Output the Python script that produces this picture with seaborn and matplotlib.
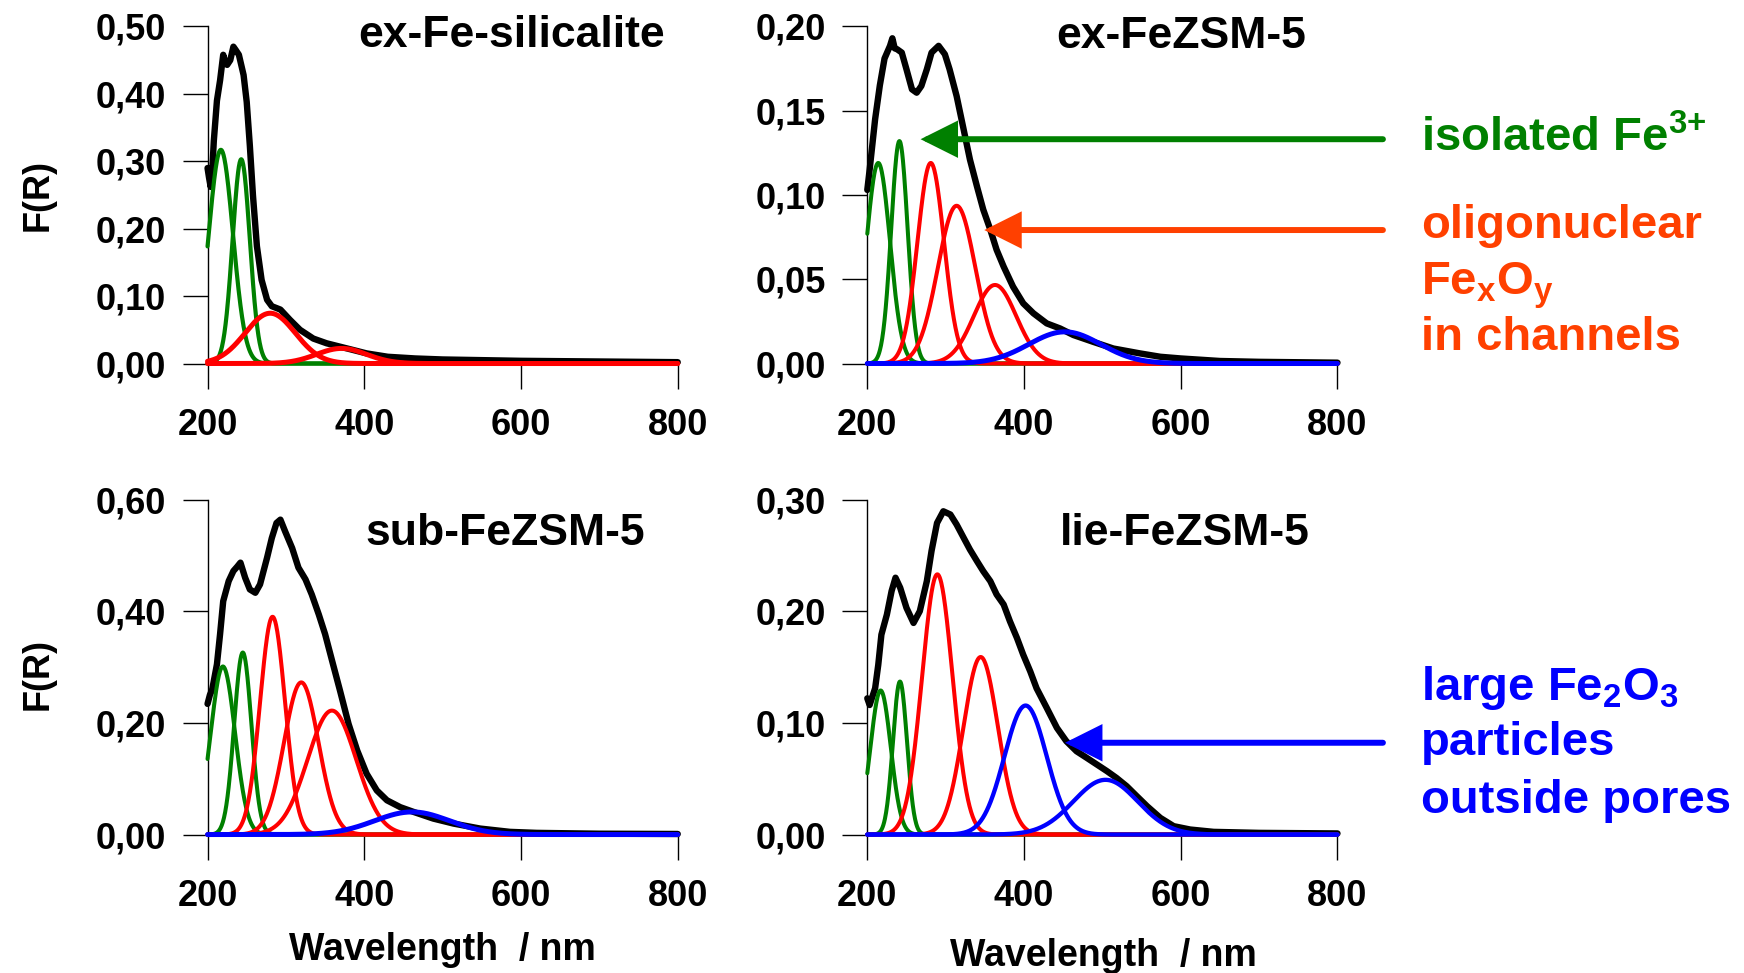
import numpy as np
import matplotlib
matplotlib.use("Agg")
import matplotlib.pyplot as plt
from matplotlib.ticker import FuncFormatter
import seaborn as sns

# ---------------------------------------------------------------- data
# Measured Kubelka-Munk spectra F(R) vs wavelength (nm)
wl_silicalite = [200, 202, 204, 206, 208, 212, 216, 220, 222, 225,
                 229, 233, 236, 240, 246, 250, 254, 258, 263, 269,
                 276, 282, 293, 305, 318, 335, 352, 369, 386, 403,
                 430, 465, 500, 600, 700, 800]
fr_silicalite = [0.29, 0.275, 0.262, 0.285, 0.33, 0.39, 0.42, 0.458, 0.45, 0.443,
                 0.45, 0.47, 0.465, 0.458, 0.428, 0.388, 0.323, 0.249, 0.174, 0.124,
                 0.0945, 0.085, 0.080, 0.065, 0.050, 0.037, 0.030, 0.025, 0.020, 0.015,
                 0.010, 0.0075, 0.006, 0.004, 0.003, 0.002]

wl_ex = [200, 203, 210, 216, 222, 229, 232, 235, 238, 244,
         250, 257, 263, 269, 276, 282, 291, 299, 305, 314,
         322, 331, 340, 348, 357, 365, 374, 386, 399, 412,
         429, 446, 463, 488, 514, 548, 574, 600, 650, 700, 800]
fr_ex = [0.103, 0.115, 0.145, 0.165, 0.181, 0.1885, 0.193, 0.187, 0.1865, 0.1845,
         0.1746, 0.1627, 0.1607, 0.1647, 0.1746, 0.1845, 0.1885, 0.1835, 0.1746, 0.1587,
         0.141, 0.121, 0.105, 0.0913, 0.0794, 0.0675, 0.0575, 0.0456, 0.0357, 0.0298,
         0.0238, 0.0208, 0.0169, 0.0129, 0.0089, 0.006, 0.004, 0.003, 0.0015, 0.001, 0.0005]

wl_sub = [200, 203, 206, 212, 216, 220, 227, 233, 238, 242,
          248, 254, 261, 267, 276, 282, 288, 293, 299, 308,
          316, 325, 333, 342, 350, 359, 369, 380, 391, 403,
          416, 429, 446, 463, 488, 514, 548, 586, 620, 700, 800]
fr_sub = [0.234, 0.25, 0.26, 0.305, 0.359, 0.418, 0.454, 0.472, 0.48, 0.487,
          0.46, 0.439, 0.433, 0.448, 0.496, 0.531, 0.558, 0.564, 0.543, 0.513,
          0.478, 0.457, 0.43, 0.394, 0.359, 0.311, 0.258, 0.198, 0.1505, 0.109,
          0.079, 0.0613, 0.049, 0.0405, 0.0286, 0.0196, 0.0107, 0.0048, 0.003, 0.0015, 0.001]

wl_lie = [200, 203, 210, 214, 218, 225, 231, 236, 242, 250,
          259, 267, 276, 282, 289, 297, 306, 314, 323, 331,
          340, 348, 357, 365, 374, 382, 391, 399, 408, 416,
          429, 442, 454, 467, 480, 493, 506, 518, 531, 544,
          557, 574, 591, 612, 642, 700, 800]
fr_lie = [0.122, 0.116, 0.131, 0.152, 0.179, 0.197, 0.218, 0.230, 0.221, 0.203,
          0.1895, 0.200, 0.227, 0.254, 0.279, 0.2895, 0.2866, 0.2776, 0.2657, 0.2552,
          0.2448, 0.2358, 0.2269, 0.215, 0.206, 0.191, 0.176, 0.161, 0.146, 0.131,
          0.1134, 0.0955, 0.0836, 0.0746, 0.0687, 0.0627, 0.0567, 0.0507, 0.0433, 0.0343,
          0.0254, 0.0149, 0.0075, 0.0045, 0.0024, 0.0015, 0.001]

# Gaussian sub-bands of each deconvolution: centre (nm), height, sigma (nm), species
bands_silicalite_center = [217, 243, 280, 371]
bands_silicalite_height = [0.317, 0.303, 0.0746, 0.0224]
bands_silicalite_sigma = [15.5, 11, 32, 32]
bands_silicalite_kind = ["iso", "iso", "olig", "olig"]

bands_ex_center = [214, 241, 281, 314, 363, 452]
bands_ex_height = [0.119, 0.132, 0.119, 0.0936, 0.0466, 0.0188]
bands_ex_sigma = [15, 10.5, 17, 24, 27, 46]
bands_ex_kind = ["iso", "iso", "olig", "olig", "olig", "part"]

bands_sub_center = [219.6, 245, 283, 319.6, 358.7, 461]
bands_sub_height = [0.301, 0.326, 0.39, 0.2725, 0.222, 0.0405]
bands_sub_sigma = [15.5, 11, 16, 22, 31, 48]
bands_sub_kind = ["iso", "iso", "olig", "olig", "olig", "part"]

bands_lie_center = [217, 241.7, 289.4, 344.7, 402, 504]
bands_lie_height = [0.129, 0.137, 0.233, 0.159, 0.1155, 0.049]
bands_lie_sigma = [13, 9, 19.5, 22, 27, 41]
bands_lie_kind = ["iso", "iso", "olig", "olig", "part", "part"]

sample_names = ["ex-Fe-silicalite", "ex-FeZSM-5", "sub-FeZSM-5", "lie-FeZSM-5"]
y_ticks = [[0.0, 0.1, 0.2, 0.3, 0.4, 0.5],
           [0.0, 0.05, 0.10, 0.15, 0.20],
           [0.0, 0.2, 0.4, 0.6],
           [0.0, 0.1, 0.2, 0.3]]
x_ticks = [200, 400, 600, 800]

# ---------------------------------------------------------------- style
sns.set_style("ticks")
plt.rcParams["font.family"] = ["Liberation Sans", "DejaVu Sans"]
plt.rcParams["font.weight"] = "bold"
plt.rcParams["axes.labelweight"] = "bold"
plt.rcParams["text.color"] = "black"
plt.rcParams["axes.labelcolor"] = "black"
plt.rcParams["xtick.color"] = "black"
plt.rcParams["ytick.color"] = "black"
plt.rcParams["mathtext.fontset"] = "custom"
plt.rcParams["mathtext.rm"] = "Liberation Sans:bold"
plt.rcParams["mathtext.it"] = "Liberation Sans:bold"
plt.rcParams["mathtext.bf"] = "Liberation Sans:bold"

kind_color = {"iso": "#008000", "olig": "#FF0000", "part": "#0000FF"}
kind_order = {"iso": 3, "olig": 4, "part": 5}
GREEN_TXT, ORANGE_TXT, BLUE_TXT = "#008000", "#FF4000", "#0000FF"

panel_specs = [
    dict(rect=[0.1190, 0.6264, 0.2696, 0.3464], wl=wl_silicalite, fr=fr_silicalite,
         c=bands_silicalite_center, h=bands_silicalite_height, s=bands_silicalite_sigma,
         k=bands_silicalite_kind, lw={"iso": 3.0, "olig": 3.6, "part": 3.6},
         title_pos=(0.647, 0.940)),
    dict(rect=[0.4973, 0.6264, 0.2696, 0.3464], wl=wl_ex, fr=fr_ex,
         c=bands_ex_center, h=bands_ex_height, s=bands_ex_sigma,
         k=bands_ex_kind, lw={"iso": 2.9, "olig": 2.9, "part": 3.6},
         title_pos=(0.667, 0.937)),
    dict(rect=[0.1190, 0.1423, 0.2696, 0.3443], wl=wl_sub, fr=fr_sub,
         c=bands_sub_center, h=bands_sub_height, s=bands_sub_sigma,
         k=bands_sub_kind, lw={"iso": 2.9, "olig": 2.9, "part": 3.6},
         title_pos=(0.633, 0.864)),
    dict(rect=[0.4973, 0.1423, 0.2696, 0.3443], wl=wl_lie, fr=fr_lie,
         c=bands_lie_center, h=bands_lie_height, s=bands_lie_sigma,
         k=bands_lie_kind, lw={"iso": 2.9, "olig": 2.9, "part": 3.1},
         title_pos=(0.676, 0.864)),
]

fig = plt.figure(figsize=(17.44, 9.73), dpi=100)
grid = np.linspace(200, 800, 1201)
comma_fmt = FuncFormatter(lambda v, _: f"{v:.2f}".replace(".", ","))

axes = []
for i, spec in enumerate(panel_specs):
    ax = fig.add_axes(spec["rect"])
    axes.append(ax)
    sns.lineplot(x=np.asarray(spec["wl"]), y=np.asarray(spec["fr"]), ax=ax,
                 color="black", linewidth=4.6, clip_on=False, zorder=2)
    for c, h, s, k in zip(spec["c"], spec["h"], spec["s"], spec["k"]):
        band = h * np.exp(-0.5 * ((grid - c) / s) ** 2)
        sns.lineplot(x=grid, y=band, ax=ax, color=kind_color[k],
                     linewidth=spec["lw"][k], clip_on=False, zorder=kind_order[k],
                     solid_capstyle="round", solid_joinstyle="round")

    ax.set_xlim(200, 800)
    ax.set_ylim(0, y_ticks[i][-1])
    ax.set_xticks(x_ticks)
    ax.set_yticks(y_ticks[i])
    ax.yaxis.set_major_formatter(comma_fmt)
    for side in ("top", "right", "bottom"):
        ax.spines[side].set_visible(False)
    ax.spines["left"].set_linewidth(1.0)
    ax.spines["left"].set_color("black")
    ax.tick_params(axis="both", direction="out", length=18, width=1.0,
                   color="black", labelsize=26, labelcolor="black")
    ax.tick_params(axis="x", pad=14)
    ax.tick_params(axis="y", pad=12)
    ax.set_xlabel("")
    ax.set_ylabel("")
    ax.text(*spec["title_pos"], sample_names[i], transform=ax.transAxes,
            ha="center", va="baseline", fontsize=32, fontweight="bold",
            color="black")

# axis titles
for ax, ylab_y in ((axes[0], 0.5), (axes[2], 0.48)):
    ax.set_ylabel("F(R)", fontsize=26, fontweight="bold", color="black")
    ax.yaxis.set_label_coords(-0.3606, ylab_y)
    ax.yaxis.label.set_va("center")
for ax, xlab_x, xlab_y in ((axes[2], 0.50, -0.3746), (axes[3], 0.502, -0.391)):
    ax.set_xlabel("Wavelength  / nm", fontsize=27, fontweight="bold", color="black")
    ax.xaxis.set_label_coords(xlab_x, xlab_y)
    ax.xaxis.label.set_va("baseline")

# arrows pointing at the band groups
arrow_kw = dict(arrowstyle="-|>", mutation_scale=50, linewidth=4.3,
                shrinkA=0, shrinkB=0, joinstyle="miter")
axes[1].annotate("", xy=(268, 0.1331), xytext=(858, 0.1331), annotation_clip=False,
                 arrowprops=dict(color=GREEN_TXT, **arrow_kw))
axes[1].annotate("", xy=(349.3, 0.0792), xytext=(858, 0.0792), annotation_clip=False,
                 arrowprops=dict(color=ORANGE_TXT, **arrow_kw))
axes[3].annotate("", xy=(452.3, 0.0822), xytext=(858, 0.0822), annotation_clip=False,
                 arrowprops=dict(color=BLUE_TXT, **arrow_kw))

note_x = 0.8146
fig.text(note_x, 0.8441, r"isolated Fe$^{3{+}}$", color=GREEN_TXT, fontsize=34,
         ha="left", va="baseline", fontweight="bold")
for txt, y in (("oligonuclear", 0.7557), (r"Fe$_{x}$O$_{y}$", 0.6975),
               ("in channels", 0.6403)):
    fig.text(note_x, y, txt, color=ORANGE_TXT, fontsize=34, ha="left",
             va="baseline", fontweight="bold")
for txt, y in ((r"large Fe$_{2}$O$_{3}$", 0.2806), ("particles", 0.2240),
               ("outside pores", 0.1644)):
    fig.text(note_x, y, txt, color=BLUE_TXT, fontsize=34, ha="left",
             va="baseline", fontweight="bold")

fig.savefig("out.png", dpi=100, facecolor="white")
